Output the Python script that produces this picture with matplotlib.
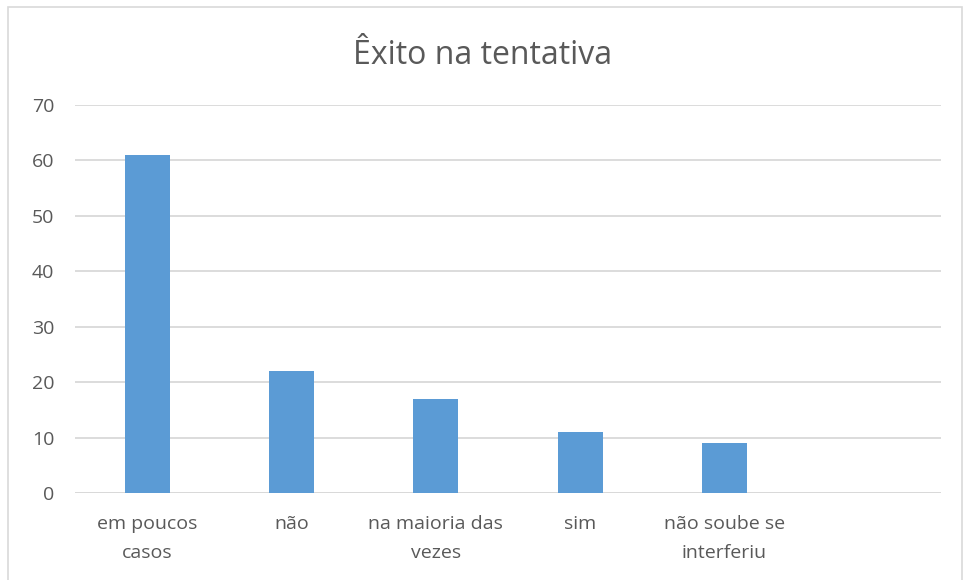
import matplotlib.pyplot as plt
from matplotlib.patches import Rectangle

# Data
categories = ["em poucos\ncasos", "não", "na maioria das\nvezes", "sim", "não soube se\ninterferiu", ""]
values = [61, 22, 17, 11, 9, 0]
title = "Êxito na tentativa"

bar_colour = "#5b9bd5"
text_colour = "#595959"
grid_colour = "#d9d9d9"

plt.rcParams["font.family"] = ["Open Sans", "DejaVu Sans"]

fig = plt.figure(figsize=(9.65, 5.8), dpi=100)
axis = fig.add_axes([75 / 965, 1 - 493 / 580, 866 / 965, 388 / 580])

x = list(range(len(categories)))
axis.bar(x[:5], values[:5], width=0.31, color=bar_colour, zorder=3)

axis.set_xlim(-0.5, len(categories) - 0.5)
axis.set_ylim(0, 70)
axis.set_yticks(range(0, 71, 10))
axis.set_xticks(x)
axis.set_xticklabels(categories, color=text_colour, fontsize=14, linespacing=1.75)
axis.tick_params(axis="y", colors=text_colour, labelsize=14, length=0, pad=15)
axis.tick_params(axis="x", length=0, pad=16)
axis.grid(axis="y", color=grid_colour, linewidth=1.3, zorder=0)
for spine in axis.spines.values():
    spine.set_visible(False)
axis.axhline(0, color=grid_colour, linewidth=1.3, zorder=2)

fig.text(0.5, 1 - 55 / 580, title, ha="center", va="center", fontsize=23, color=text_colour)

# Chart-area border
fig.patches.append(Rectangle((8 / 965, -0.05), 954 / 965, 1.05 - 7 / 580, transform=fig.transFigure,
                             fill=False, edgecolor="#d9d9d9", linewidth=1.2))

fig.savefig("out.png", dpi=100)
